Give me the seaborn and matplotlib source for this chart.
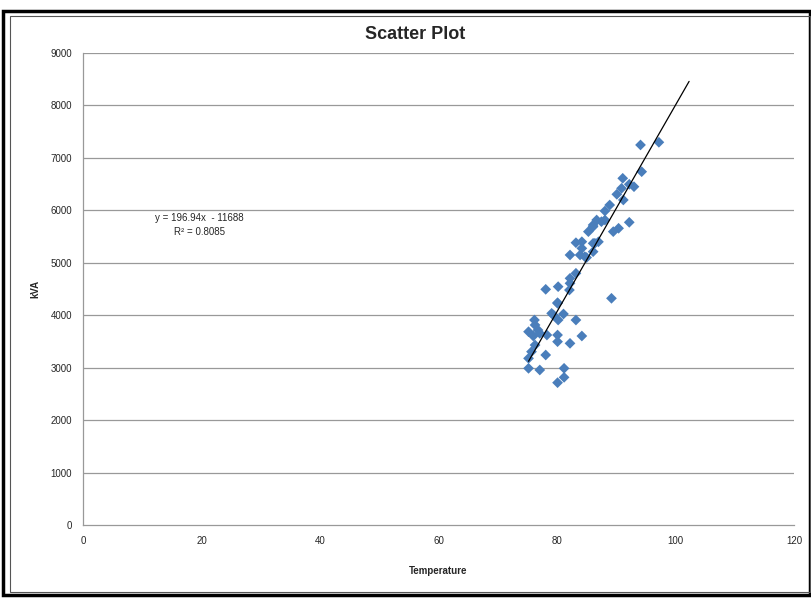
import numpy as np
import pandas as pd
import matplotlib
matplotlib.use("Agg")
import matplotlib.pyplot as plt
import seaborn as sns

# data
temperature = [94.1, 97.2, 94.3, 91.1, 92.2, 93.0, 90.9, 90.1, 91.2, 88.9,
               88.1, 86.7, 88.1, 92.2, 85.3, 86.1, 83.2, 84.2, 84.2, 82.2,
               83.9, 84.7, 86.1, 83.2, 82.2, 82.2, 80.2, 78.1, 82.1, 80.1,
               86.1, 87.5, 89.5, 90.4, 86.4, 86.1, 89.2, 80.1, 79.1, 79.4,
               81.1, 80.2, 83.2, 76.2, 75.2, 76.3, 76.8, 76.0, 77.1, 78.3,
               80.1, 80.1, 82.2, 84.2, 76.3, 75.7, 78.1, 75.2, 75.2, 77.1,
               81.2, 81.2, 80.1, 87.0, 85.0]
kva = [7247, 7298, 6737, 6611, 6497, 6451, 6420, 6306, 6198, 6102,
       5988, 5816, 5816, 5772, 5594, 5690, 5383, 5402, 5276, 5149,
       5149, 5117, 5371, 4800, 4704, 4609, 4545, 4494, 4481, 4239,
       5721, 5784, 5594, 5658, 5372, 5212, 4323, 4227, 4036, 4005,
       4024, 3909, 3909, 3909, 3686, 3814, 3718, 3604, 3655, 3623,
       3623, 3496, 3464, 3604, 3432, 3305, 3242, 3178, 2988, 2956,
       2988, 2816, 2714, 5400, 5100]

slope = 196.94
intercept = -11688
r2 = 0.8085

df = pd.DataFrame({"Temperature": temperature, "kVA": kva})

sns.set_style("white")
plt.rcParams['font.family'] = ['Liberation Sans Narrow', 'Liberation Sans', 'DejaVu Sans']

fig = plt.figure(figsize=(8.11, 5.99), dpi=100)
ax = fig.add_axes([0.1023, 0.1235, 0.8767, 0.788])

grid_col = "#999999"
for yv in range(1000, 10000, 1000):
    ax.axhline(yv, color=grid_col, lw=0.9, zorder=0)

sns.scatterplot(data=df, x="Temperature", y="kVA", marker="D", s=30,
                color="#4a7ebb", edgecolor="none", ax=ax, zorder=3)

# linear trendline, extended forward
xs = np.array([min(temperature), 102.3])
ax.plot(xs, slope * xs + intercept, color="black", lw=0.9, zorder=4)

ax.text(19.7, 5854, "y = 196.94x  - 11688", ha="center", va="center", fontsize=7)
ax.text(19.7, 5587, "R² = %.4f" % r2, ha="center", va="center", fontsize=7)

ax.set_xlim(0, 120)
ax.set_ylim(0, 9000)
ax.set_xticks(range(0, 121, 20))
ax.set_yticks(range(0, 9001, 1000))
ax.tick_params(labelsize=7, length=0, pad=8)
for s in ["top", "right"]:
    ax.spines[s].set_visible(False)
for s in ["left", "bottom"]:
    ax.spines[s].set_color(grid_col)
    ax.spines[s].set_linewidth(0.9)

ax.set_xlabel("Temperature", fontsize=7, fontweight="bold", labelpad=14)
ax.set_ylabel("kVA", fontsize=7, fontweight="bold", labelpad=7)
fig.text(0.512, 0.943, "Scatter Plot", ha="center", va="center",
         fontsize=13, fontweight="bold")

# chart frame
fig.patches.append(plt.Rectangle((0.004, 0.006), 0.995, 0.975, transform=fig.transFigure,
                                 fill=False, edgecolor="black", lw=2.5))
fig.patches.append(plt.Rectangle((0.012, 0.012), 0.987, 0.962, transform=fig.transFigure,
                                 fill=False, edgecolor="#555555", lw=0.8))

fig.savefig("out.png", dpi=100)
